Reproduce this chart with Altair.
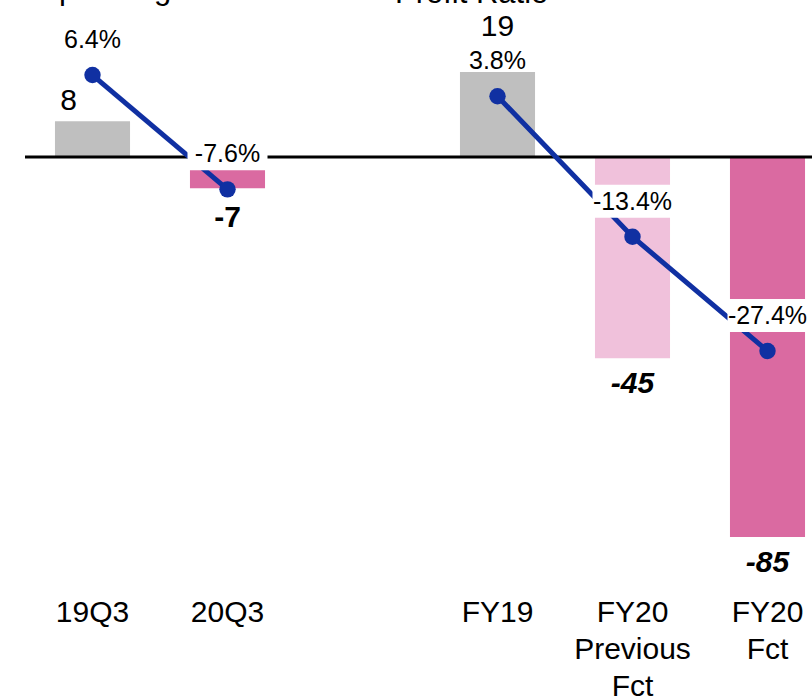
import altair as alt
import pandas as pd

# Operating income (billion yen) and operating profit ratio (%)
categories = ["19Q3", "20Q3", "FY19", "FY20 Previous Fct", "FY20 Fct"]
periods = ["Quarter", "Quarter", "Fiscal year", "Fiscal year", "Fiscal year"]
operating_income = [8, -7, 19, -45, -85]
profit_ratio = [6.4, -7.6, 3.8, -13.4, -27.4]
bar_kind = ["Profit", "Loss", "Profit", "Previous forecast", "Loss"]

# x slots: a blank slot separates the quarterly and full-year groups
x_slots = ["19Q3", "20Q3", " ", "FY19", "FY20 Previous Fct", "FY20 Fct"]
titles = ["Operating Income", "Profit Ratio"]

FONT = "Liberation Sans"
BLUE = "#1030A2"

df = pd.DataFrame({
    "category": categories,
    "period": periods,
    "income": operating_income,
    "ratio": profit_ratio,
    "kind": bar_kind,
})

x_scale = alt.Scale(domain=x_slots, range=[0, 810], paddingInner=0.444, paddingOuter=0.222)
x_axis = alt.Axis(
    domain=False, ticks=False, tickSize=0, labelAngle=0,
    labelFontSize=30, labelFont=FONT, labelColor="black",
    labelPadding=37, labelLineHeight=37, labelOverlap=False,
    labelExpr="split(datum.label, ' ')", title=None, grid=False,
)
x_enc = alt.X("category:N", scale=x_scale, axis=x_axis)

income_scale = alt.Scale(domain=[-90.16, 35.12], nice=False, zero=False)
ratio_scale = alt.Scale(domain=[-52.99, 15.59], nice=False, zero=False)

base = alt.Chart(df).transform_calculate(
    income_label="(datum.income < 0 ? '-' : '') + abs(datum.income)",
    ratio_label="(datum.ratio < 0 ? '-' : '') + format(abs(datum.ratio), '.1f') + '%'",
)

bars = base.mark_bar().encode(
    x=x_enc,
    y=alt.Y("income:Q", scale=income_scale, axis=None),
    color=alt.Color(
        "kind:N",
        scale=alt.Scale(domain=["Profit", "Loss", "Previous forecast"],
                        range=["#BFBFBF", "#DA6AA1", "#F0C1DB"]),
        legend=None,
    ),
)

zero_rule = alt.Chart(pd.DataFrame({"zero": [0]})).mark_rule(
    color="black", strokeWidth=3
).encode(y=alt.Y("zero:Q", scale=income_scale, axis=None))

y_income = alt.Y("income:Q", scale=income_scale, axis=None)
text_enc = dict(x=x_enc, y=y_income, text="income_label:N")

label_q3_19 = base.transform_filter("datum.category == '19Q3'").mark_text(
    font=FONT, fontSize=30, dx=-24, dy=-11, baseline="alphabetic", color="black"
).encode(**text_enc)

label_fy19 = base.transform_filter("datum.category == 'FY19'").mark_text(
    font=FONT, fontSize=30, dy=-36, baseline="alphabetic", color="black"
).encode(**text_enc)

label_q3_20 = base.transform_filter("datum.category == '20Q3'").mark_text(
    font=FONT, fontSize=30, fontWeight="bold", dy=39, baseline="alphabetic", color="black"
).encode(**text_enc)

label_fy20 = base.transform_filter(
    "datum.category == 'FY20 Previous Fct' || datum.category == 'FY20 Fct'"
).mark_text(
    font=FONT, fontSize=30, fontWeight="bold", fontStyle="italic", dy=35,
    baseline="alphabetic", color="black"
).encode(**text_enc)

title_left = alt.Chart(pd.DataFrame({"t": [titles[0]]})).mark_text(
    font=FONT, fontSize=31, align="left", baseline="alphabetic", color="black"
).encode(x=alt.value(10), y=alt.value(-1.5), text="t:N")

title_right = alt.Chart(pd.DataFrame({"t": [titles[1]]})).mark_text(
    font=FONT, fontSize=31, align="left", baseline="alphabetic", color="black"
).encode(x=alt.value(370), y=alt.value(3), text="t:N")

y_ratio = alt.Y("ratio:Q", scale=ratio_scale, axis=None)

ratio_line = base.mark_line(color=BLUE, strokeWidth=5).encode(
    x=x_enc, y=y_ratio, detail="period:N"
)

label_boxes = base.transform_filter("datum.ratio < 0").mark_bar(
    color="white", width=80, yOffset=-52, y2Offset=-19
).encode(x=x_enc, y=y_ratio, y2=alt.Y2("ratio"))

ratio_points = base.mark_circle(size=270, color=BLUE, opacity=1).encode(
    x=x_enc, y=y_ratio
)

ratio_labels = base.mark_text(
    font=FONT, fontSize=25, dy=-27, baseline="alphabetic", color="black"
).encode(x=x_enc, y=y_ratio, text="ratio_label:N")

income_layer = alt.layer(
    bars, zero_rule, label_q3_19, label_fy19, label_q3_20, label_fy20,
    title_left, title_right,
)
ratio_layer = alt.layer(ratio_line, label_boxes, ratio_points, ratio_labels)

chart = alt.layer(income_layer, ratio_layer).resolve_scale(
    y="independent"
).properties(
    width=787,
    height=560,
    autosize=alt.AutoSizeParams(type="none"),
    padding={"left": 25, "top": 0, "right": 0, "bottom": 139},
).configure(font=FONT, background="white").configure_view(stroke=None)

chart.save("out.html", embed_options={"renderer": "svg", "actions": False})
